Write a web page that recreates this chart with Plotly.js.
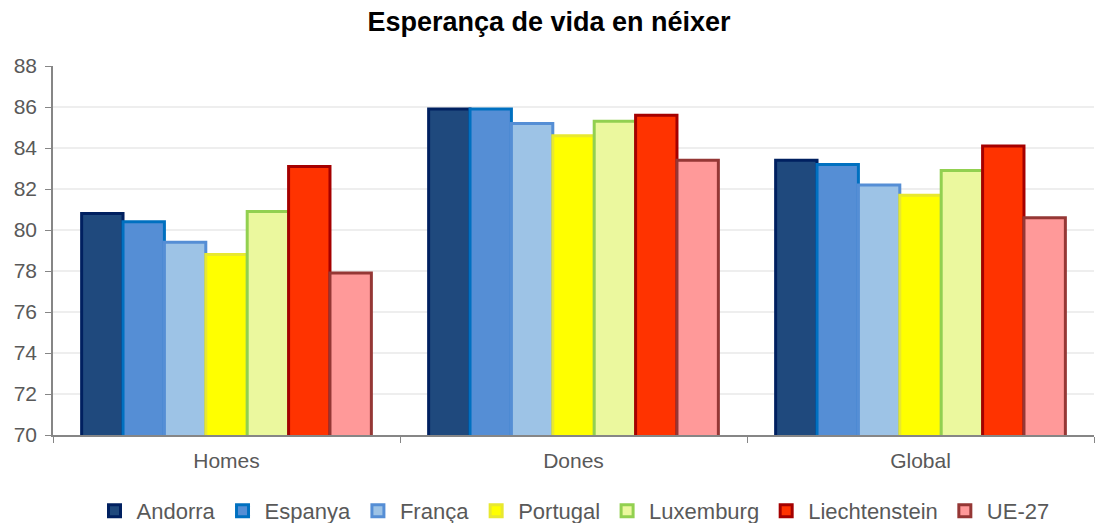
<!DOCTYPE html>
<html><head><meta charset="utf-8">
<script src="https://cdn.plot.ly/plotly-3.0.1.min.js"></script>
<style>body{margin:0;background:#fff}#c{width:1098px;height:523px}</style>
</head><body><div id="c"></div>
<script>
const categories = ["Homes", "Dones", "Global"];
const countries = ["Andorra", "Espanya", "França", "Portugal", "Luxemburg", "Liechtenstein", "UE-27"];
const andorra = [80.8, 85.9, 83.4];
const espanya = [80.4, 85.9, 83.2];
const franca = [79.4, 85.2, 82.2];
const portugal = [78.8, 84.6, 81.7];
const luxemburg = [80.9, 85.3, 82.9];
const liechtenstein = [83.1, 85.6, 84.1];
const ue27 = [77.9, 83.4, 80.6];
const series = [andorra, espanya, franca, portugal, luxemburg, liechtenstein, ue27];
const fills = ["#1F497D", "#558ED5", "#9DC3E6", "#FFFF00", "#EBF89E", "#FF3300", "#FF9999"];
const borders = ["#002060", "#0070C0", "#558ED5", "#E8E830", "#92D050", "#A50000", "#953735"];
const yTicks = [70, 72, 74, 76, 78, 80, 82, 84, 86, 88];

const data = countries.map((name, i) => ({
  type: "bar", name: name, x: categories, y: series[i],
  marker: {color: fills[i], line: {color: borders[i], width: 3}}
}));

const layout = {
  width: 1098, height: 523,
  margin: {l: 53, r: 4, t: 66, b: 88},
  paper_bgcolor: "#fff", plot_bgcolor: "#fff",
  font: {family: "Liberation Sans, Arial, sans-serif", color: "#595959", size: 21},
  title: {text: "<b>Esperança de vida en néixer</b>", x: 0.5, xanchor: "center", y: 0.958, yanchor: "middle",
          font: {size: 27, color: "#000", family: "Liberation Sans, Arial, sans-serif"}},
  barmode: "group", bargap: 0.165, bargroupgap: 0,
  xaxis: {type: "category", showline: true, linecolor: "#868686", linewidth: 1.5,
          ticks: "outside", tickson: "boundaries", ticklen: 6, tickcolor: "#868686",
          ticklabelstandoff: 6,
          tickfont: {size: 21, color: "#595959"}, showgrid: false},
  yaxis: {range: [70, 88], autorange: false, tickvals: yTicks, ticktext: yTicks.map(String),
          showline: true, linecolor: "#868686", linewidth: 1.5, ticks: "outside", ticklen: 6,
          tickcolor: "#868686", gridcolor: "#EEEEEE", gridwidth: 1.5, zeroline: false,
          ticklabelstandoff: 4,
          tickfont: {size: 21, color: "#595959"}},
  legend: {orientation: "h", x: 0.5, xanchor: "center", xref: "paper",
           y: 0.023, yanchor: "middle", yref: "container",
           font: {size: 22, color: "#595959"}, itemwidth: 34, tracegroupgap: 0},
  showlegend: true
};
Plotly.newPlot("c", data, layout, {displayModeBar: false});
</script></body></html>
